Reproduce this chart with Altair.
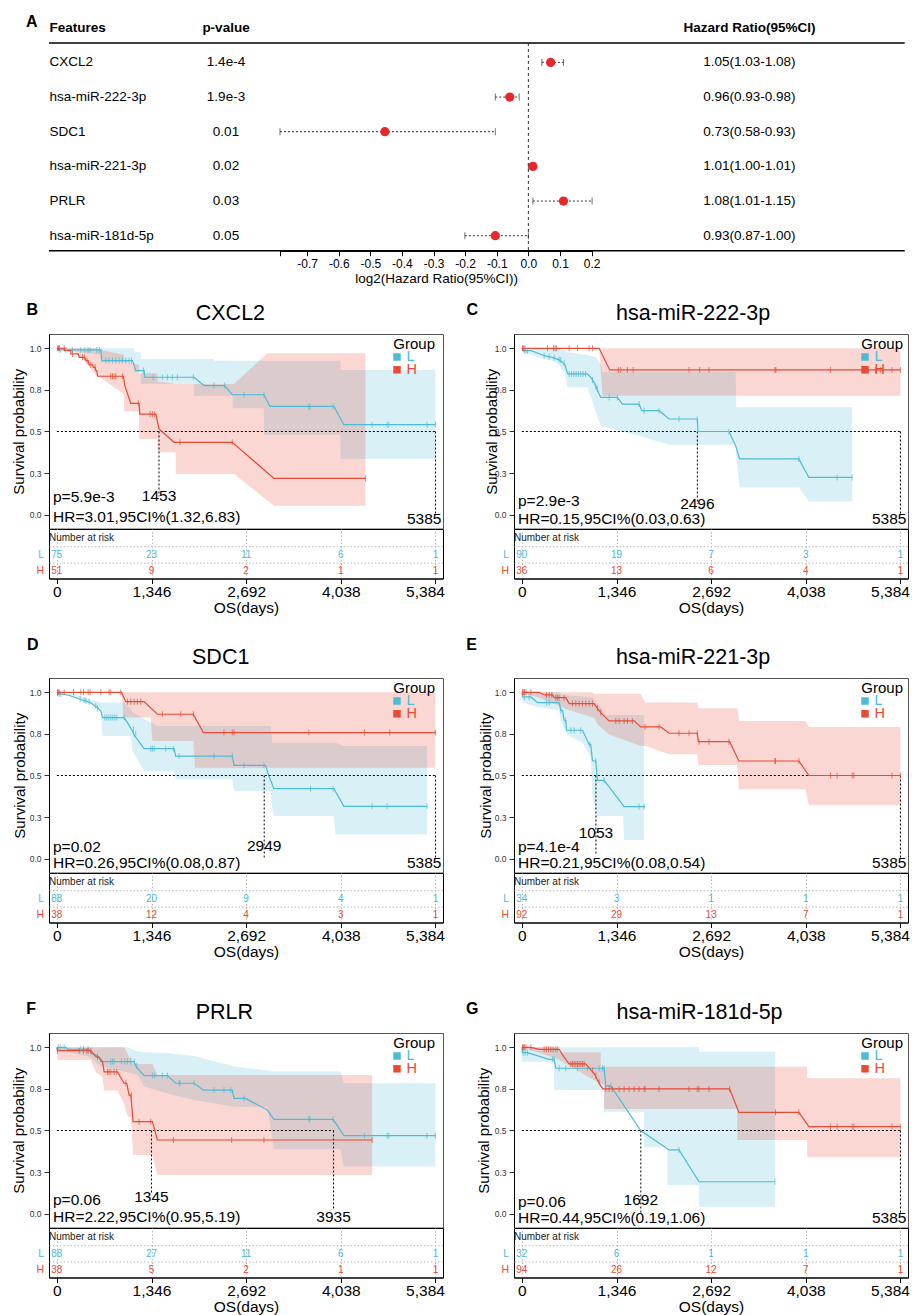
import math
import pandas as pd
import altair as alt

FONT = "Liberation Sans"
BLUE = "#4DBBD5"
RED = "#E64B35"
POINT_RED = "#E8262B"
GROUPS = ["L", "H"]
GROUP_COLORS = [BLUE, RED]

# ---------------- Panel A (forest plot) ----------------
FEATURES = ["CXCL2", "hsa-miR-222-3p", "SDC1", "hsa-miR-221-3p", "PRLR", "hsa-miR-181d-5p"]
P_VALUES = ["1.4e-4", "1.9e-3", "0.01", "0.02", "0.03", "0.05"]
HR = [1.05, 0.96, 0.73, 1.01, 1.08, 0.93]
HR_LOW = [1.03, 0.93, 0.58, 1.00, 1.01, 0.87]
HR_HIGH = [1.08, 0.98, 0.93, 1.01, 1.15, 1.00]
HR_TEXT = ["1.05(1.03-1.08)", "0.96(0.93-0.98)", "0.73(0.58-0.93)",
           "1.01(1.00-1.01)", "1.08(1.01-1.15)", "0.93(0.87-1.00)"]
LOG2_TICKS = [-0.7, -0.6, -0.5, -0.4, -0.3, -0.2, -0.1, 0.0, 0.1, 0.2]

# ---------------- KM panels ----------------
PANEL_LETTERS = ["B", "C", "D", "E", "F", "G"]
PANEL_TITLES = ["CXCL2", "hsa-miR-222-3p", "SDC1", "hsa-miR-221-3p", "PRLR", "hsa-miR-181d-5p"]
PANEL_P = ["p=5.9e-3", "p=2.9e-3", "p=0.02", "p=4.1e-4", "p=0.06", "p=0.06"]
PANEL_HR = ["HR=3.01,95CI%(1.32,6.83)", "HR=0.15,95CI%(0.03,0.63)", "HR=0.26,95CI%(0.08,0.87)",
            "HR=0.21,95CI%(0.08,0.54)", "HR=2.22,95CI%(0.95,5.19)", "HR=0.44,95CI%(0.19,1.06)"]
RISK_COUNT_L = [[75, 23, 11, 6, 1], [90, 19, 7, 3, 1], [88, 20, 9, 4, 1],
                [34, 3, 1, 1, 1], [88, 27, 11, 6, 1], [32, 6, 1, 1, 1]]
RISK_COUNT_H = [[51, 9, 2, 1, 1], [36, 13, 6, 4, 1], [38, 12, 4, 3, 1],
                [92, 29, 13, 7, 1], [38, 5, 2, 1, 1], [94, 26, 12, 7, 1]]
MEDIANS = [[1453, 5385], [2496, 5385], [2949, 5385], [1053, 5385], [1345, 3935], [1692, 5385]]
MEDIAN_LABEL_Y = [[0.11, -0.026], [0.064, -0.026], [0.076, -0.026],
                  [0.153, -0.026], [0.102, -0.022], [0.082, -0.026]]
MEDIAN_LINE_END = [[0.11, 0.0], [0.064, 0.0], [0.0, 0.0], [0.03, 0.0], [0.12, 0.02], [0.0, 0.0]]
MEDIAN_AT_END = [[False, True], [False, True], [False, True], [False, True], [False, False], [False, True]]
TIME_TICKS = [0, 1346, 2692, 4038, 5384]
SURV_TICKS = [0, 0.25, 0.5, 0.75, 1.0]

# CXCL2
B_L_T = [0, 19, 19, 625, 639, 1075, 1099, 1122, 1241, 1250, 1951, 2093, 2386, 2495, 2945, 3031, 3940, 4082, 5384]
B_L_S = [1.0, 1.0, 0.99, 0.99, 0.926, 0.926, 0.896, 0.866, 0.866, 0.826, 0.826, 0.776, 0.776, 0.721, 0.721, 0.651, 0.651, 0.541, 0.541]
B_L_CT = [47, 128, 223, 341, 398, 445, 473, 568, 606, 696, 743, 791, 838, 885, 933, 980, 1027, 1061, 1231,
          1368, 1501, 1572, 1643, 1714, 1941, 2235, 2386, 2661, 2945, 3584, 3599, 3930, 4484, 4697, 4721, 5265, 5384]
B_L_CS = [0.99, 0.99, 0.99, 0.99, 0.99, 0.99, 0.99, 0.99, 0.99, 0.926, 0.926, 0.926, 0.926, 0.926, 0.926, 0.926,
          0.926, 0.926, 0.866, 0.826, 0.826, 0.826, 0.826, 0.826, 0.826, 0.776, 0.776, 0.721, 0.721, 0.651, 0.651,
          0.651, 0.541, 0.541, 0.541, 0.541, 0.541]
B_H_T = [0, 114, 114, 199, 199, 303, 317, 398, 412, 445, 459, 507, 521, 540, 554, 568, 578, 947, 966, 1051, 1170,
         1179, 1406, 1454, 1667, 2495, 3087, 4389]
B_H_S = [1.0, 1.0, 0.986, 0.986, 0.966, 0.966, 0.946, 0.946, 0.926, 0.926, 0.9, 0.9, 0.886, 0.886, 0.866, 0.866,
         0.832, 0.832, 0.776, 0.669, 0.669, 0.605, 0.605, 0.515, 0.435, 0.435, 0.218, 0.218]
B_H_CT = [9, 24, 38, 104, 222, 365, 388, 430, 483, 545, 767, 791, 814, 838, 933, 1160, 1326, 1359, 1392, 1752, 2495, 4389]
B_H_CS = [1.0, 1.0, 1.0, 1.0, 0.966, 0.946, 0.946, 0.926, 0.9, 0.886, 0.832, 0.832, 0.832, 0.832, 0.832, 0.669,
          0.605, 0.605, 0.605, 0.435, 0.435, 0.218]
B_L_BT = [0, 624, 626, 1097, 1099, 1192, 1194, 1949, 1951, 2234, 2236, 2499, 2501, 2944, 2946, 4033, 4035, 5384]
B_L_BLO = [1.0, 0.96, 0.916, 0.916, 0.856, 0.856, 0.785, 0.785, 0.715, 0.715, 0.715, 0.715, 0.64, 0.64, 0.48,
           0.48, 0.335, 0.335]
B_L_BHI = [1.0, 1.0, 1.0, 1.0, 0.976, 0.976, 0.936, 0.936, 0.936, 0.936, 0.925, 0.925, 0.925, 0.925, 0.925,
           0.925, 0.87, 0.87]
B_H_BT = [0, 246, 388, 530, 955, 957, 1168, 1170, 1429, 1431, 1689, 1691, 2518, 2993, 3087, 4389]
B_H_BLO = [1.0, 0.98, 0.93, 0.85, 0.725, 0.62, 0.62, 0.455, 0.455, 0.375, 0.375, 0.245, 0.245, 0.085, 0.054, 0.054]
B_H_BHI = [1.0, 1.0, 1.0, 1.0, 0.96, 0.93, 0.9, 0.85, 0.85, 0.8, 0.785, 0.785, 0.785, 0.97, 0.97, 0.97]

# hsa-miR-222-3p
C_L_T = [0, 19, 128, 223, 294, 365, 445, 521, 568, 616, 649, 933, 980, 1027, 1061, 1122, 1359, 1430, 1667, 1705,
         1951, 2093, 2495, 2505, 2945, 3040, 3097, 3940, 4082, 4697]
C_L_S = [1.0, 0.986, 0.986, 0.972, 0.96, 0.952, 0.944, 0.932, 0.92, 0.9, 0.846, 0.846, 0.826, 0.796, 0.762, 0.705,
         0.705, 0.665, 0.665, 0.625, 0.625, 0.575, 0.575, 0.5, 0.5, 0.415, 0.335, 0.335, 0.224, 0.224]
C_L_CT = [33, 57, 80, 317, 388, 459, 530, 554, 601, 672, 706, 739, 772, 805, 838, 872, 905, 1004, 1051, 1075, 1241,
          1359, 1667, 1738, 1951, 2235, 2495, 2945, 3940, 4484, 4697]
C_L_CS = [0.986, 0.986, 0.986, 0.955, 0.95, 0.944, 0.932, 0.93, 0.91, 0.846, 0.846, 0.846, 0.846, 0.846, 0.846,
          0.846, 0.846, 0.81, 0.77, 0.755, 0.705, 0.705, 0.665, 0.625, 0.625, 0.575, 0.575, 0.5, 0.335, 0.224, 0.224]
C_H_T = [0, 1099, 1250, 5384]
C_H_S = [1.0, 1.0, 0.87, 0.87]
C_H_CT = [9, 24, 43, 365, 450, 473, 492, 672, 791, 956, 1004, 1373, 1406, 1501, 1582, 2377, 2529, 2661, 3599, 3613,
          4389, 5029, 5100, 5265, 5384]
C_H_CS = [1.0, 1.0, 1.0, 1.0, 1.0, 1.0, 1.0, 1.0, 1.0, 1.0, 1.0, 0.87, 0.87, 0.87, 0.87, 0.87, 0.87, 0.87, 0.87,
          0.87, 0.87, 0.87, 0.87, 0.87, 0.87]
C_L_BT = [0, 19, 246, 436, 530, 616, 649, 933, 1051, 1061, 1122, 1146, 1667, 2093, 3040, 3049, 3097, 3940, 4082, 4697]
C_L_BLO = [1.0, 0.976, 0.946, 0.926, 0.9, 0.846, 0.766, 0.766, 0.62, 0.605, 0.535, 0.53, 0.475, 0.421, 0.421, 0.35,
           0.164, 0.164, 0.08, 0.08]
C_L_BHI = [1.0, 1.0, 1.0, 1.0, 1.0, 0.985, 0.976, 0.96, 0.946, 0.94, 0.9, 0.856, 0.856, 0.856, 0.856, 0.645, 0.645,
           0.645, 0.645, 0.645]
C_H_BT = [0, 1099, 1146, 5384]
C_H_BLO = [1.0, 1.0, 0.715, 0.715]
C_H_BHI = [1.0, 1.0, 1.0, 1.0]

# SDC1
D_L_T = [0, 33, 152, 294, 365, 436, 492, 540, 587, 625, 649, 956, 1004, 1075, 1108, 1146, 1241, 1667, 1690, 2495,
         2519, 2969, 3016, 3087, 3940, 4082, 5265]
D_L_S = [1.0, 0.992, 0.984, 0.964, 0.952, 0.944, 0.934, 0.918, 0.904, 0.888, 0.848, 0.848, 0.818, 0.768, 0.737,
         0.717, 0.661, 0.661, 0.617, 0.617, 0.561, 0.561, 0.497, 0.421, 0.421, 0.315, 0.315]
D_L_CT = [9, 33, 57, 331, 388, 412, 459, 554, 578, 682, 710, 739, 767, 795, 824, 852, 956, 1089, 1122, 1335, 1359,
          1383, 1548, 1657, 1738, 2235, 2495, 2661, 2945, 3608, 3930, 4484, 4697, 5265]
D_L_CS = [0.996, 0.992, 0.99, 0.96, 0.952, 0.95, 0.944, 0.918, 0.904, 0.848, 0.848, 0.848, 0.848, 0.848, 0.848,
          0.848, 0.848, 0.778, 0.75, 0.661, 0.661, 0.661, 0.661, 0.661, 0.617, 0.617, 0.617, 0.561, 0.561, 0.421,
          0.421, 0.315, 0.315, 0.315]
D_H_T = [0, 919, 980, 1241, 1430, 1941, 2083, 5384]
D_H_S = [1.0, 1.0, 0.944, 0.944, 0.868, 0.868, 0.758, 0.758]
D_H_CT = [9, 19, 33, 104, 237, 341, 379, 445, 473, 625, 743, 767, 909, 1004, 1051, 1099, 1146, 1193, 1501, 1761,
          1941, 2377, 2495, 2519, 3584, 4375, 4735, 5384]
D_H_CS = [1.0, 1.0, 1.0, 1.0, 1.0, 1.0, 1.0, 1.0, 1.0, 1.0, 1.0, 1.0, 1.0, 0.944, 0.944, 0.944, 0.944, 0.944,
          0.868, 0.868, 0.868, 0.758, 0.758, 0.758, 0.758, 0.758, 0.758, 0.758]
D_L_BT = [0, 152, 388, 625, 649, 956, 1051, 1075, 1241, 1430, 1667, 1690, 2495, 2519, 3040, 3064, 3087, 3940, 3963, 4082, 5265]
D_L_BLO = [1.0, 0.984, 0.948, 0.904, 0.737, 0.737, 0.737, 0.647, 0.527, 0.527, 0.527, 0.477, 0.477, 0.407, 0.407,
           0.3, 0.257, 0.257, 0.146, 0.146, 0.146]
D_L_BHI = [1.0, 1.0, 0.97, 0.938, 0.938, 0.938, 0.9, 0.88, 0.84, 0.798, 0.798, 0.798, 0.798, 0.798, 0.798, 0.697,
           0.697, 0.697, 0.697, 0.677, 0.677]
D_H_BT = [0, 919, 950, 1335, 1359, 1941, 1965, 5384]
D_H_BLO = [1.0, 1.0, 0.848, 0.848, 0.707, 0.707, 0.547, 0.547]
D_H_BHI = [1.0, 1.0, 1.0, 1.0, 1.0, 1.0, 1.0, 1.0]

# hsa-miR-221-3p
E_L_T = [0, 9, 128, 223, 530, 554, 578, 601, 625, 635, 862, 956, 980, 1004, 1051, 1075, 1170, 1454, 1752]
E_L_S = [1.0, 0.972, 0.972, 0.938, 0.938, 0.892, 0.892, 0.832, 0.832, 0.772, 0.772, 0.687, 0.687, 0.587, 0.587,
         0.471, 0.471, 0.313, 0.313]
E_L_CT = [33, 104, 350, 388, 554, 616, 696, 743, 838, 966, 1051, 1170, 1667, 1738]
E_L_CS = [0.972, 0.972, 0.938, 0.938, 0.892, 0.832, 0.772, 0.772, 0.772, 0.687, 0.587, 0.471, 0.313, 0.313]
E_H_T = [0, 246, 317, 436, 459, 625, 672, 1027, 1075, 1122, 1193, 1241, 1596, 1690, 1975, 2093, 2495, 2510, 2955,
         3087, 3940, 4082, 5384]
E_H_S = [1.0, 1.0, 0.984, 0.984, 0.968, 0.968, 0.932, 0.932, 0.904, 0.878, 0.848, 0.828, 0.828, 0.792, 0.792,
         0.754, 0.754, 0.703, 0.703, 0.587, 0.587, 0.5, 0.5]
E_H_CT = [9, 24, 38, 57, 128, 350, 388, 426, 483, 507, 530, 601, 720, 767, 814, 862, 909, 956, 1004, 1075, 1122,
          1335, 1383, 1454, 1501, 1572, 1752, 1951, 2235, 2377, 2495, 2519, 2661, 2945, 3599, 3608, 3940, 4389,
          4484, 4697, 4721, 5265, 5384]
E_H_CS = [1.0, 1.0, 1.0, 1.0, 1.0, 0.984, 0.984, 0.984, 0.968, 0.968, 0.968, 0.968, 0.932, 0.932, 0.932, 0.932,
          0.932, 0.932, 0.932, 0.904, 0.878, 0.828, 0.828, 0.828, 0.828, 0.828, 0.792, 0.792, 0.754, 0.754, 0.754,
          0.703, 0.703, 0.703, 0.587, 0.587, 0.587, 0.5, 0.5, 0.5, 0.5, 0.5, 0.5]
E_L_BT = [0, 9, 223, 530, 554, 578, 635, 862, 980, 1004, 1075, 1146, 1193, 1440, 1454, 1738]
E_L_BLO = [1.0, 0.938, 0.912, 0.892, 0.828, 0.81, 0.747, 0.697, 0.607, 0.377, 0.257, 0.257, 0.257, 0.257, 0.112, 0.112]
E_L_BHI = [1.0, 1.0, 1.0, 1.0, 0.99, 0.984, 0.982, 0.975, 0.97, 0.968, 0.93, 0.898, 0.864, 0.864, 0.864, 0.864]
E_H_BT = [0, 246, 459, 672, 1004, 1027, 1075, 1241, 1690, 1752, 2093, 2495, 2510, 3064, 3087, 4034, 4082, 5384]
E_H_BLO = [1.0, 0.968, 0.932, 0.892, 0.85, 0.848, 0.808, 0.747, 0.677, 0.677, 0.627, 0.627, 0.563, 0.563, 0.417,
           0.417, 0.321, 0.321]
E_H_BHI = [1.0, 1.0, 1.0, 1.0, 1.0, 0.992, 0.992, 0.992, 0.992, 0.938, 0.938, 0.938, 0.904, 0.904, 0.828, 0.828,
           0.792, 0.792]

# PRLR
F_L_T = [0, 128, 152, 459, 483, 554, 601, 625, 1099, 1122, 1146, 1241, 1572, 1690, 1951, 2083, 2495, 2519, 2685,
         2993, 3087, 3930, 4082, 5384]
F_L_S = [1.0, 1.0, 0.988, 0.988, 0.964, 0.954, 0.94, 0.914, 0.914, 0.888, 0.874, 0.83, 0.83, 0.784, 0.784, 0.743,
         0.743, 0.693, 0.693, 0.623, 0.567, 0.567, 0.469, 0.469]
F_L_CT = [19, 47, 104, 341, 379, 445, 767, 791, 814, 919, 966, 1004, 1051, 1099, 1136, 1359, 1392, 1501, 1572,
          1738, 1752, 1951, 2235, 2377, 2472, 2661, 3584, 3599, 3930, 4375, 4697, 4721, 5265, 5384]
F_L_CS = [1.0, 1.0, 1.0, 0.988, 0.988, 0.988, 0.914, 0.914, 0.914, 0.914, 0.914, 0.914, 0.914, 0.914, 0.888,
          0.83, 0.83, 0.83, 0.83, 0.784, 0.784, 0.784, 0.743, 0.743, 0.743, 0.693, 0.567, 0.567, 0.567, 0.469,
          0.469, 0.469, 0.469, 0.469]
F_H_T = [0, 9, 483, 554, 601, 649, 672, 862, 956, 994, 1027, 1051, 1084, 1359, 1430, 4484]
F_H_S = [1.0, 0.98, 0.98, 0.944, 0.94, 0.914, 0.852, 0.852, 0.784, 0.784, 0.713, 0.713, 0.553, 0.553, 0.443, 0.443]
F_H_CT = [9, 317, 379, 426, 445, 483, 578, 720, 743, 767, 814, 852, 980, 1061, 1170, 1335, 1657, 2486, 2945, 4484]
F_H_CS = [0.98, 0.98, 0.98, 0.98, 0.98, 0.98, 0.944, 0.852, 0.852, 0.852, 0.852, 0.852, 0.784, 0.713, 0.553,
          0.553, 0.443, 0.443, 0.443, 0.443]
F_L_BT = [0, 459, 625, 1004, 1146, 1241, 1572, 1951, 2519, 2993, 3087, 4034, 4082, 5384]
F_L_BLO = [0.988, 0.944, 0.884, 0.85, 0.834, 0.764, 0.723, 0.683, 0.643, 0.643, 0.387, 0.387, 0.283, 0.283]
F_L_BHI = [1.0, 1.0, 1.0, 1.0, 0.975, 0.97, 0.966, 0.948, 0.884, 0.86, 0.854, 0.854, 0.784, 0.784]
F_H_BT = [0, 9, 483, 554, 649, 672, 862, 956, 994, 1027, 1051, 1084, 1359, 1430, 4484]
F_H_BLO = [0.98, 0.924, 0.924, 0.85, 0.82, 0.74, 0.74, 0.66, 0.6, 0.58, 0.58, 0.353, 0.353, 0.232, 0.232]
F_H_BHI = [1.0, 1.0, 1.0, 1.0, 1.0, 1.0, 1.0, 1.0, 0.97, 0.94, 0.94, 0.9, 0.9, 0.834, 0.834]

# hsa-miR-181d-5p
G_L_T = [0, 9, 80, 388, 459, 483, 1170, 1193, 1264, 1690, 2093, 2235, 2519, 3599]
G_L_S = [1.0, 0.968, 0.968, 0.928, 0.928, 0.874, 0.874, 0.768, 0.768, 0.5, 0.383, 0.383, 0.192, 0.192]
G_L_CT = [19, 47, 80, 436, 459, 530, 625, 791, 933, 1099, 1146, 1170, 1264, 2235, 3599]
G_L_CS = [0.968, 0.968, 0.968, 0.928, 0.928, 0.874, 0.874, 0.874, 0.874, 0.874, 0.874, 0.874, 0.768, 0.383, 0.192]
G_H_T = [0, 128, 246, 530, 578, 625, 672, 909, 980, 1027, 1075, 1122, 1155, 2955, 3087, 3940, 4082, 5384]
G_H_S = [1.0, 1.0, 0.988, 0.988, 0.954, 0.928, 0.9, 0.9, 0.864, 0.844, 0.804, 0.768, 0.75, 0.75, 0.609, 0.609,
         0.523, 0.523]
G_H_CT = [9, 24, 38, 57, 128, 317, 350, 379, 412, 445, 483, 511, 696, 720, 743, 767, 791, 814, 838, 862, 885,
          1004, 1051, 1099, 1193, 1241, 1288, 1383, 1454, 1525, 1596, 1667, 1738, 1752, 1951, 2377, 2495, 2519,
          2661, 2955, 3608, 3940, 4389, 4484, 4697, 4721, 5265, 5384]
G_H_CS = [1.0, 1.0, 1.0, 1.0, 1.0, 0.988, 0.988, 0.988, 0.988, 0.988, 0.988, 0.988, 0.9, 0.9, 0.9, 0.9, 0.9, 0.9,
          0.9, 0.9, 0.9, 0.86, 0.83, 0.79, 0.75, 0.75, 0.75, 0.75, 0.75, 0.75, 0.75, 0.75, 0.75, 0.75, 0.75, 0.75,
          0.75, 0.75, 0.75, 0.75, 0.609, 0.609, 0.523, 0.523, 0.523, 0.523, 0.523, 0.523]
G_L_BT = [0, 458, 460, 1168, 1170, 1736, 1738, 2068, 2070, 2517, 2519, 3599]
G_L_BLO = [0.913, 0.913, 0.743, 0.743, 0.613, 0.613, 0.4, 0.4, 0.172, 0.172, 0.042, 0.042]
G_L_BHI = [1.0, 1.0, 1.0, 1.0, 1.0, 1.0, 1.0, 1.0, 1.0, 1.0, 0.974, 0.974]
G_H_BT = [0, 506, 508, 1120, 1124, 1168, 1170, 3062, 3064, 4056, 4058, 5384]
G_H_BLO = [1.0, 0.93, 0.93, 0.78, 0.78, 0.78, 0.629, 0.629, 0.443, 0.443, 0.339, 0.339]
G_H_BHI = [1.0, 1.0, 0.97, 0.97, 0.883, 0.883, 0.883, 0.883, 0.883, 0.883, 0.814, 0.814]

CURVES = [
    [(B_L_T, B_L_S), (B_H_T, B_H_S)], [(C_L_T, C_L_S), (C_H_T, C_H_S)], [(D_L_T, D_L_S), (D_H_T, D_H_S)],
    [(E_L_T, E_L_S), (E_H_T, E_H_S)], [(F_L_T, F_L_S), (F_H_T, F_H_S)], [(G_L_T, G_L_S), (G_H_T, G_H_S)],
]
CENSORS = [
    [(B_L_CT, B_L_CS), (B_H_CT, B_H_CS)], [(C_L_CT, C_L_CS), (C_H_CT, C_H_CS)], [(D_L_CT, D_L_CS), (D_H_CT, D_H_CS)],
    [(E_L_CT, E_L_CS), (E_H_CT, E_H_CS)], [(F_L_CT, F_L_CS), (F_H_CT, F_H_CS)], [(G_L_CT, G_L_CS), (G_H_CT, G_H_CS)],
]
BANDS = [
    [(B_L_BT, B_L_BLO, B_L_BHI), (B_H_BT, B_H_BLO, B_H_BHI)],
    [(C_L_BT, C_L_BLO, C_L_BHI), (C_H_BT, C_H_BLO, C_H_BHI)],
    [(D_L_BT, D_L_BLO, D_L_BHI), (D_H_BT, D_H_BLO, D_H_BHI)],
    [(E_L_BT, E_L_BLO, E_L_BHI), (E_H_BT, E_H_BLO, E_H_BHI)],
    [(F_L_BT, F_L_BLO, F_L_BHI), (F_H_BT, F_H_BLO, F_H_BHI)],
    [(G_L_BT, G_L_BLO, G_L_BHI), (G_H_BT, G_H_BLO, G_H_BHI)],
]

# ---------------- layout (pixels) ----------------
KM_W = 394
KM_H = 194.5
RISK_TABLE_H = 49.5
X_DOMAIN = [-112, 5492]
Y_DOMAIN = [-0.083, 1.086]
RISK_ROWS = [-0.579, 2.439]
TITLE_X = [181.4, 179.2, 171.7, 179.2, 175.4, 185.5]
TITLE_Y = [-20, -20, -20.3, -20.3, -20.3, -20.3]
LETTER_X = [-16.8, -41.8, -16.3, -42.3, -17.8, -41.8]
LETTER_Y = [-24, -24.3, -33, -33, -23.7, -23.7]
P_Y = [163.3, 166.7, 169, 169, 167, 168.7]
HR_Y = [183.3, 185, 184.7, 184.7, 183.7, 184.7]
YTITLE_X = [-30.5, -22.5, -29.7, -28.3, -30.5, -31]
LEGEND_DX = [0, 3, 0, 3, 0, 3]
ROW_TOP = [-41.5, -52, -50]      # cell box top, relative to KM plot top
ROW_BOTTOM = [46, 59, 37]        # cell box bottom, below the risk table
COL_LEFT = [48.3, 49]            # cell box left of plot
COL_RIGHT = [20, 2.5]            # cell box right of plot

ONE = pd.DataFrame({"v": [0]})


def text_layer(text, x, y, size, weight="normal", align="center", color="black"):
    return alt.Chart(pd.DataFrame({"label": [text]})).mark_text(
        align=align, baseline="middle", fontSize=size, fontWeight=weight, color=color
    ).encode(x=alt.value(x), y=alt.value(y), text="label:N")


def box_edge(x0, x1, y):
    return alt.Chart(ONE).mark_rule(strokeOpacity=0, strokeWidth=0, color="white").encode(
        x=alt.value(x0), x2=alt.value(x1), y=alt.value(y))


def km_panel(k, r):
    c = k % 2
    xs = alt.Scale(domain=X_DOMAIN, nice=False, zero=False)
    ys = alt.Scale(domain=Y_DOMAIN, nice=False, zero=False)
    cs = alt.Scale(domain=GROUPS, range=GROUP_COLORS)
    col = alt.Color("group:N", scale=cs, legend=None)

    yaxis = alt.Axis(values=SURV_TICKS, format=".1f", labelFontSize=8.5, labelColor="#333333",
                     tickColor="#333333", tickSize=5, labelPadding=3, domainColor="black",
                     title="Survival probability", titleFontSize=15, titleFontWeight="normal",
                     titleColor="black", titleX=YTITLE_X[k], titleBaseline="middle", grid=False)
    X = lambda f: alt.X(f, type="quantitative", scale=xs, axis=None)
    Y = lambda f: alt.Y(f, type="quantitative", scale=ys, axis=yaxis, stack=None)

    layers = []
    for g, gc, (bt, blo, bhi) in zip(GROUPS, GROUP_COLORS, BANDS[k]):
        bdf = pd.DataFrame({"t": bt, "lo": blo, "hi": bhi})
        layers.append(alt.Chart(bdf).mark_area(color=gc, fillOpacity=0.22, opacity=1, line=False,
                                               interpolate="linear").encode(
            x=X("t"), y=Y("lo"), y2="hi:Q"))

    curve_rows, cens_rows = [], []
    for g, (ct, cv) in zip(GROUPS, CURVES[k]):
        for i, (t, s) in enumerate(zip(ct, cv)):
            curve_rows.append({"group": g, "t": t, "s": s, "i": i})
    for g, (ct, cv) in zip(GROUPS, CENSORS[k]):
        for t, s in zip(ct, cv):
            cens_rows.append({"group": g, "t": t, "s": s})

    hline = alt.Chart(pd.DataFrame({"x0": [0], "x1": [max(MEDIANS[k])], "y": [0.5]})).mark_rule(
        color="black", strokeDash=[2, 2], strokeWidth=1).encode(x=X("x0"), x2="x1:Q", y=Y("y"))
    vlines = alt.Chart(pd.DataFrame({"x": MEDIANS[k], "y0": [0.5, 0.5], "y1": MEDIAN_LINE_END[k]})).mark_rule(
        color="black", strokeDash=[2, 2], strokeWidth=1).encode(x=X("x"), y=Y("y0"), y2="y1:Q")
    curves = alt.Chart(pd.DataFrame(curve_rows)).mark_line(strokeWidth=1.2, interpolate="linear").encode(
        x=X("t"), y=Y("s"), color=col, order=alt.Order("i:Q"))
    cens = alt.Chart(pd.DataFrame(cens_rows)).mark_tick(orient="vertical", size=6, thickness=1).encode(
        x=X("t"), y=Y("s"), color=col)

    med_df = pd.DataFrame({"x": MEDIANS[k], "y": MEDIAN_LABEL_Y[k],
                           "label": [str(m) for m in MEDIANS[k]], "end": MEDIAN_AT_END[k]})
    med_mid = alt.Chart(med_df[~med_df["end"]]).mark_text(
        align="center", baseline="middle", fontSize=15.5, color="black"
    ).encode(x=X("x"), y=Y("y"), text="label:N")
    layers += [hline, vlines, curves, cens, med_mid]
    if med_df["end"].any():
        layers.append(alt.Chart(med_df[med_df["end"]]).mark_text(
            align="right", baseline="middle", fontSize=15.5, color="black", dx=6
        ).encode(x=X("x"), y=Y("y"), text="label:N"))

    layers.append(text_layer(PANEL_P[k], 4, P_Y[k], 15.5, align="left"))
    layers.append(text_layer(PANEL_HR[k], 4, HR_Y[k], 15.5, align="left"))
    layers.append(text_layer(PANEL_TITLES[k], TITLE_X[k], TITLE_Y[k], 21.5))
    layers.append(text_layer(PANEL_LETTERS[k], LETTER_X[k], LETTER_Y[k], 16, weight="bold"))

    gx = KM_W - 8 + LEGEND_DX[k]
    layers.append(text_layer("Group", gx, 9.5, 15, align="right"))
    for g, gc, yy in zip(GROUPS, GROUP_COLORS, [23, 35.8]):
        layers.append(alt.Chart(ONE).mark_square(size=56, color=gc, opacity=1).encode(
            x=alt.value(gx - 38), y=alt.value(yy)))
        layers.append(text_layer(g, gx - 28.6, yy, 14.5, align="left", color=gc))
    layers.append(box_edge(-COL_LEFT[c], KM_W + COL_RIGHT[c], ROW_TOP[r]))

    km = alt.layer(*layers).properties(
        width=KM_W, height=KM_H, view=alt.ViewBackground(stroke="#555555", strokeWidth=1))

    # risk table
    ry = alt.Scale(domain=RISK_ROWS, reverse=True, nice=False, zero=False)
    last_tick = "datum.value == %d" % TIME_TICKS[-1]
    xaxis = alt.Axis(values=TIME_TICKS, format=",.0f", labelFontSize=15.5, labelColor="black",
                     tickColor="black", tickSize=5, labelPadding=1, domainColor="black", title="OS(days)",
                     titleFontSize=15.5, titleFontWeight="normal", titleColor="black", titlePadding=0,
                     grid=True, gridColor="#b8b8b8", gridDash=[1.5, 2], gridWidth=1, labelFlush=False,
                     labelAlign={"condition": {"test": last_tick, "value": "right"}, "value": "center"},
                     labelOffset={"condition": {"test": last_tick, "value": 9}, "value": 0})
    RY = alt.Y("row:Q", scale=ry, axis=None)
    risk_rows = []
    for row, (g, counts) in enumerate(zip(GROUPS, [RISK_COUNT_L[k], RISK_COUNT_H[k]]), start=1):
        for t, n in zip(TIME_TICKS, counts):
            risk_rows.append({"group": g, "t": t, "n": n, "row": row})
    nums = alt.Chart(pd.DataFrame(risk_rows)).mark_text(fontSize=10, baseline="middle").encode(
        x=alt.X("t:Q", scale=xs, axis=xaxis), y=RY, text="n:N", color=col)
    seps = alt.Chart(pd.DataFrame({"row": [0.5, 1.5]})).mark_rule(
        color="#b8b8b8", strokeDash=[1.5, 2], strokeWidth=1).encode(y=RY)
    head = alt.Chart(pd.DataFrame({"label": ["Number at risk"], "row": [0]})).mark_text(
        align="left", baseline="middle", fontSize=10, color="#222222"
    ).encode(x=alt.value(0), y=RY, text="label:N")
    rlab = alt.Chart(pd.DataFrame({"group": GROUPS, "row": [1, 2]})).mark_text(
        align="right", baseline="middle", fontSize=10.5
    ).encode(x=alt.value(-5), y=RY, text="group:N", color=col)
    bottom = box_edge(-COL_LEFT[c], KM_W + COL_RIGHT[c], RISK_TABLE_H + ROW_BOTTOM[r])
    risk = alt.layer(seps, nums, head, rlab, bottom).properties(
        width=KM_W, height=RISK_TABLE_H, view=alt.ViewBackground(stroke="black", strokeWidth=1))

    return alt.vconcat(km, risk, spacing=0, bounds="flush")


# ---------------- Panel A ----------------
FOREST_H = 207.7
LEFT_W = 231.0
FOREST_W = 312.1
RIGHT_W = 312.6
x_lo = math.log2(min(HR_LOW))
x_hi = math.log2(max(HR_HIGH))
forest_df = pd.DataFrame({
    "row": list(range(len(FEATURES))),
    "feature": FEATURES,
    "p": P_VALUES,
    "hr": [math.log2(v) for v in HR],
    "lo": [math.log2(v) for v in HR_LOW],
    "hi": [math.log2(v) for v in HR_HIGH],
    "label": HR_TEXT,
})
fy = alt.Scale(domain=[-0.5597, 5.433], reverse=True, nice=False, zero=False)
fx = alt.Scale(domain=[x_lo, x_hi], nice=False, zero=False)
fxaxis = alt.Axis(values=[x_lo] + LOG2_TICKS,
                  labelExpr="datum.value < -0.75 ? '' : replace(format(datum.value, '.1f'), '\u2212', '-')",
                  tickSize=5, tickColor="black", domainColor="black", domainWidth=1.5, labelFontSize=12,
                  labelColor="black", labelPadding=3, labelFlush=False, labelOverlap=False,
                  title="log2(Hazard Ratio(95%CI))", titleFontSize=13.5, titleFontWeight="normal",
                  titleColor="black", titlePadding=1.5, grid=False)
fbase = alt.Chart(forest_df)
FY = alt.Y("row:Q", scale=fy, axis=None)
FX = lambda f: alt.X(f, type="quantitative", scale=fx, axis=fxaxis)

left = alt.layer(
    box_edge(-48.3, -47.3, -42.3),
    box_edge(-48.3, -47.3, 247.7),
    text_layer("A", -17.3, -20.6, 16, weight="bold"),
    text_layer("Features", 0.5, -15, 13.5, weight="bold", align="left"),
    text_layer("p-value", 177, -15, 13.5, weight="bold"),
    fbase.mark_text(align="left", baseline="middle", fontSize=13.5, color="black").encode(
        x=alt.value(0.5), y=FY, text="feature:N"),
    fbase.mark_text(align="center", baseline="middle", fontSize=13.5, color="black").encode(
        x=alt.value(177), y=FY, text="p:N"),
).properties(width=LEFT_W, height=FOREST_H)

forest = alt.layer(
    alt.Chart(pd.DataFrame({"x": [0.0]})).mark_rule(strokeDash=[3, 3], color="#333333", strokeWidth=1).encode(
        x=FX("x")),
    alt.Chart(ONE).mark_rule(color="black", strokeWidth=1.5).encode(
        x=alt.value(-LEFT_W), x2=alt.value(FOREST_W + RIGHT_W), y=alt.value(0)),
    alt.Chart(ONE).mark_rule(color="black", strokeWidth=1.5).encode(
        x=alt.value(-LEFT_W), x2=alt.value(FOREST_W + RIGHT_W), y=alt.value(FOREST_H)),
    fbase.mark_rule(strokeDash=[2, 2], color="#333333", strokeWidth=1).encode(
        x=FX("lo"), x2="hi:Q", y=FY),
    fbase.mark_tick(orient="vertical", size=7, thickness=1, color="#333333").encode(x=FX("lo"), y=FY),
    fbase.mark_tick(orient="vertical", size=7, thickness=1, color="#333333").encode(x=FX("hi"), y=FY),
    fbase.mark_circle(size=85, color=POINT_RED, opacity=1).encode(x=FX("hr"), y=FY),
).properties(width=FOREST_W, height=FOREST_H)

right = alt.layer(
    text_layer("Hazard Ratio(95%CI)", 156.4, -15, 13.5, weight="bold"),
    fbase.mark_text(align="center", baseline="middle", fontSize=13.5, color="black").encode(
        x=alt.value(156.4), y=FY, text="label:N"),
).properties(width=RIGHT_W, height=FOREST_H)

row_a = alt.hconcat(left, forest, right, spacing=0, bounds="flush")

rows = [row_a]
for r in range(3):
    rows.append(alt.hconcat(km_panel(2 * r, r), km_panel(2 * r + 1, r), spacing=0))

chart = alt.vconcat(*rows, spacing=0).properties(padding=0).configure(
    font=FONT).configure_view(stroke="transparent")

chart.save("out.html", embed_options={"renderer": "svg", "actions": False})
